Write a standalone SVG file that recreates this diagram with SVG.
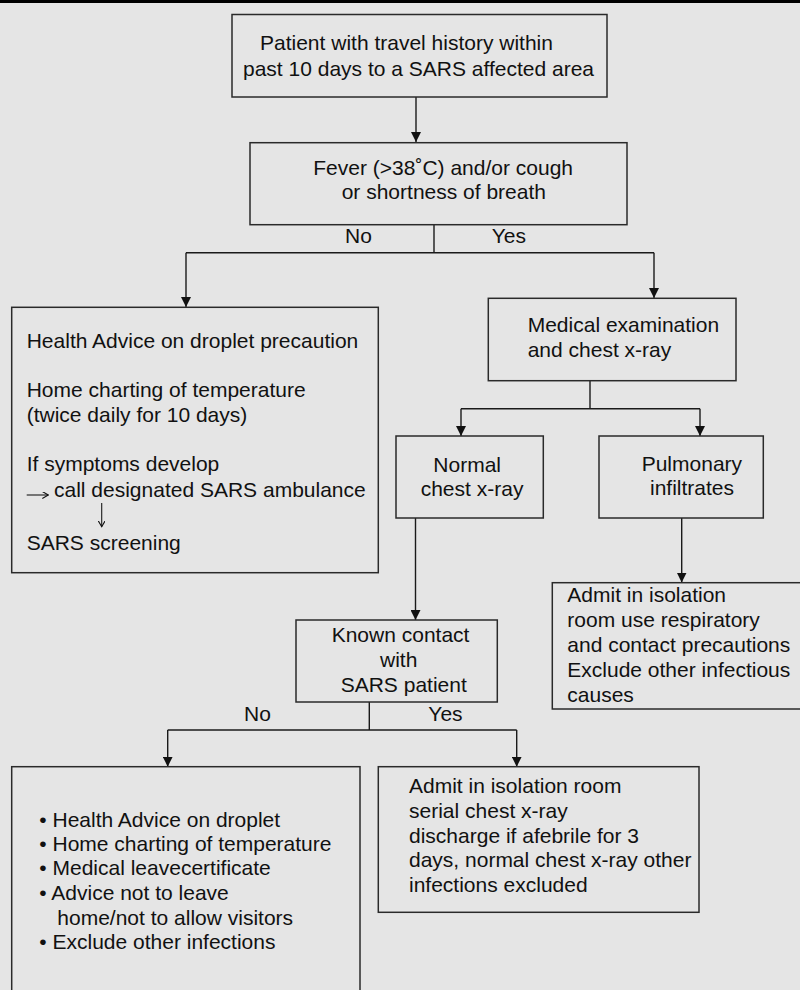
<svg xmlns="http://www.w3.org/2000/svg" width="800" height="990" viewBox="0 0 800 990">
<defs>
<style>
.bg{fill:#e5e5e5}
.box{fill:#e5e5e5;stroke:#2a2a2a;stroke-width:1.5}
.t{font-family:"Liberation Sans",Arial,sans-serif;font-size:21px;fill:#111}
.ln{fill:none;stroke:#1a1a1a;stroke-width:1.4}
.sm{fill:none;stroke:#1a1a1a;stroke-width:1.1}
</style>
<marker id="ah" markerUnits="userSpaceOnUse" markerWidth="10" markerHeight="10" refX="10" refY="5" orient="auto">
<path d="M0,0 L10,5 L0,10 z" fill="#111"/>
</marker>
<marker id="sh" markerUnits="userSpaceOnUse" markerWidth="7" markerHeight="7" refX="6" refY="3.5" orient="auto">
<path d="M0,0 L6,3.5 L0,7" fill="none" stroke="#111" stroke-width="1.1"/>
</marker>
</defs>
<rect class="bg" x="0" y="0" width="800" height="990"/>
<rect x="0" y="0" width="800" height="3" fill="#000"/>

<g id="connectors">
<path class="ln" d="M416,97 V142" marker-end="url(#ah)"/>
<path class="ln" d="M434,225 V252.7"/>
<path class="ln" d="M186,252.7 H654"/>
<path class="ln" d="M186,252.7 V307" marker-end="url(#ah)"/>
<path class="ln" d="M654,252.7 V298" marker-end="url(#ah)"/>
<path class="ln" d="M590,381 V408.7"/>
<path class="ln" d="M461,408.7 H700"/>
<path class="ln" d="M461,408.7 V436" marker-end="url(#ah)"/>
<path class="ln" d="M700,408.7 V436" marker-end="url(#ah)"/>
<path class="ln" d="M415.5,518 V620" marker-end="url(#ah)"/>
<path class="ln" d="M681.7,518 V582.5" marker-end="url(#ah)"/>
<path class="ln" d="M369.3,702 V730"/>
<path class="ln" d="M167.7,730 H516.7"/>
<path class="ln" d="M167.7,730 V766.7" marker-end="url(#ah)"/>
<path class="ln" d="M516.7,730 V766.7" marker-end="url(#ah)"/>
<text class="t" x="345" y="243.3">No</text>
<text class="t" x="491.7" y="243.3">Yes</text>
<text class="t" x="244" y="720.7">No</text>
<text class="t" x="428.3" y="720.7">Yes</text>
</g>

<g id="travel">
<rect class="box" x="232" y="14.5" width="375" height="82.5"/>
<text class="t" x="260" y="50">Patient with travel history within</text>
<text class="t" x="243" y="75.5">past 10 days to a SARS affected area</text>
</g>

<g id="fever">
<rect class="box" x="250" y="142.7" width="377" height="82"/>
<text class="t" x="313.3" y="175">Fever (&gt;38˚C) and/or cough</text>
<text class="t" x="341.7" y="199.3">or shortness of breath</text>
</g>

<g id="advice">
<rect class="box" x="11.7" y="307.3" width="366.6" height="265.4"/>
<text class="t" x="26.7" y="348.3">Health Advice on droplet precaution</text>
<text class="t" x="26.7" y="396.7">Home charting of temperature</text>
<text class="t" x="26.7" y="421.7">(twice daily for 10 days)</text>
<text class="t" x="26.7" y="470.7">If symptoms develop</text>
<path class="sm" d="M26.7,495 H48.3" marker-end="url(#sh)"/>
<text class="t" x="54" y="496.7">call designated SARS ambulance</text>
<path class="sm" d="M101.7,503 V526.7" marker-end="url(#sh)"/>
<text class="t" x="26.7" y="550">SARS screening</text>
</g>

<g id="medical">
<rect class="box" x="488.3" y="298.3" width="247.7" height="82.4"/>
<text class="t" x="527.7" y="331.7">Medical examination</text>
<text class="t" x="527.7" y="356.5">and chest x-ray</text>
</g>

<g id="normal">
<rect class="box" x="396" y="436" width="147.3" height="82"/>
<text class="t" x="433.3" y="471.7">Normal</text>
<text class="t" x="420.7" y="496">chest x-ray</text>
</g>

<g id="pulmonary">
<rect class="box" x="599" y="436" width="164.3" height="82"/>
<text class="t" x="641.7" y="470.7">Pulmonary</text>
<text class="t" x="650" y="495">infiltrates</text>
</g>

<g id="admit-right">
<rect class="box" x="552.3" y="582.7" width="260" height="126.3"/>
<text class="t" x="567.3" y="602">Admit in isolation</text>
<text class="t" x="567.3" y="627">room use respiratory</text>
<text class="t" x="567.3" y="652">and contact precautions</text>
<text class="t" x="567.3" y="677">Exclude other infectious</text>
<text class="t" x="567.3" y="702">causes</text>
</g>

<g id="known">
<rect class="box" x="296" y="620" width="201.3" height="82"/>
<text class="t" x="331.7" y="642.3">Known contact</text>
<text class="t" x="380" y="667.3">with</text>
<text class="t" x="340.7" y="691.7">SARS patient</text>
</g>

<g id="home">
<rect class="box" x="11.7" y="766.7" width="348.3" height="240"/>
<text class="t" x="39.3" y="826.7">• Health Advice on droplet</text>
<text class="t" x="39.3" y="851">• Home charting of temperature</text>
<text class="t" x="39.3" y="875.3">• Medical leavecertificate</text>
<text class="t" x="39.3" y="900">• Advice not to leave</text>
<text class="t" x="57.3" y="925">home/not to allow visitors</text>
<text class="t" x="39.3" y="949.3">• Exclude other infections</text>
</g>

<g id="admit-bottom">
<rect class="box" x="378.3" y="766.7" width="320.7" height="145.6"/>
<text class="t" x="409" y="793.3">Admit in isolation room</text>
<text class="t" x="409" y="818.3">serial chest x-ray</text>
<text class="t" x="409" y="843.3">discharge if afebrile for 3</text>
<text class="t" x="409" y="867.3">days, normal chest x-ray other</text>
<text class="t" x="409" y="892.3">infections excluded</text>
</g>
</svg>
